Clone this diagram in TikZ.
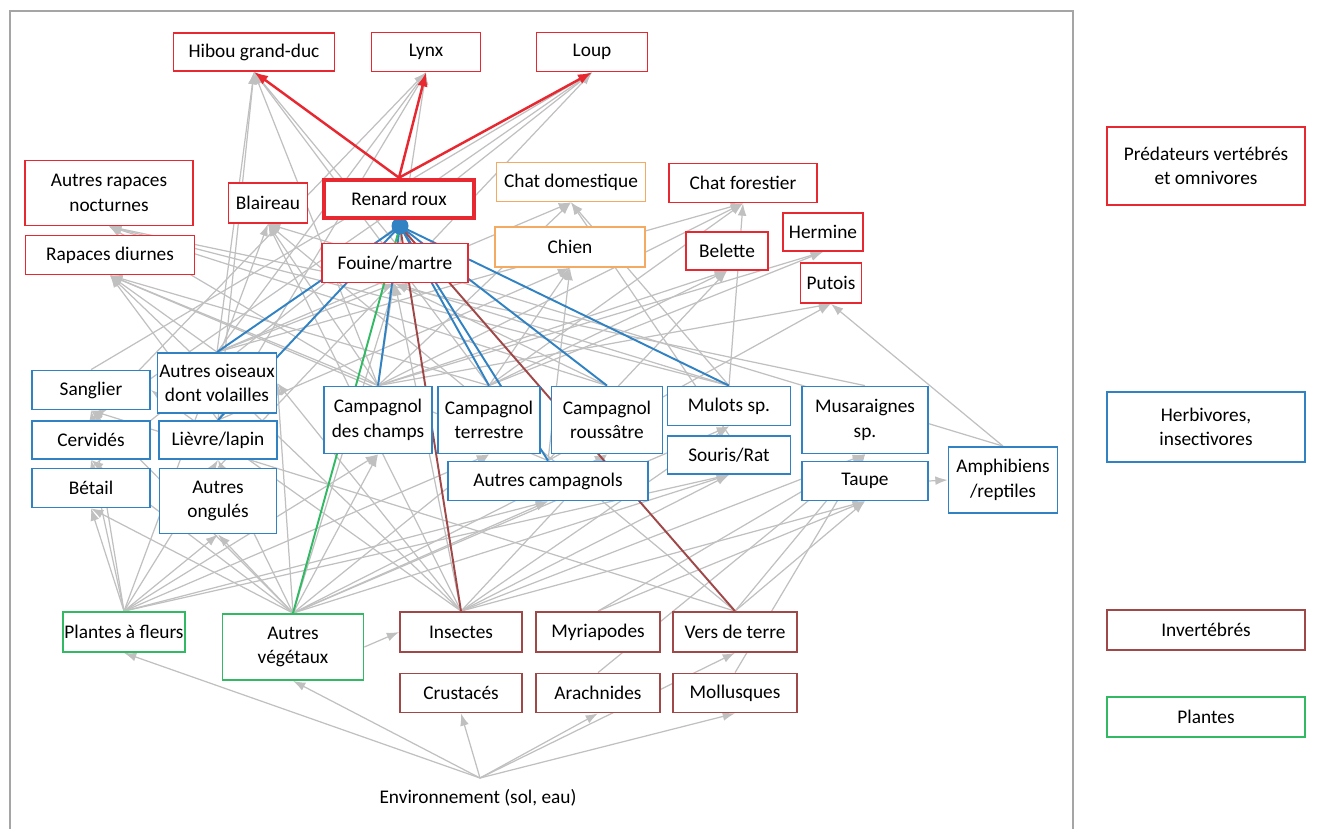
\documentclass[tikz,border=0pt]{standalone}
\usepackage{fontspec}
\setmainfont{Carlito}
\usetikzlibrary{arrows.meta,backgrounds}
\definecolor{predred}{RGB}{232,40,48}
\definecolor{petorange}{RGB}{245,170,100}
\definecolor{herbblue}{RGB}{48,130,195}
\definecolor{invbrown}{RGB}{160,72,72}
\definecolor{plantgreen}{RGB}{50,185,100}
\definecolor{webgray}{RGB}{192,192,192}
\definecolor{framegray}{RGB}{165,165,165}
\tikzset{
  taxon/.style={draw,fill=white,line width=1pt,inner sep=1pt,align=center,font=\fontsize{11}{14}\selectfont},
  wh/.style 2 args={minimum width=#1,minimum height=#2},
  pred/.style={taxon,draw=predred},
  pet/.style={taxon,draw=petorange},
  herb/.style={taxon,draw=herbblue},
  invert/.style={taxon,draw=invbrown},
  plant/.style={taxon,draw=plantgreen},
  feeds/.style={every edge/.style={draw=webgray,line width=0.7pt,{Latex[length=7pt,width=5pt]}-}},
  diet/.style={every edge/.style={draw=#1,line width=1.1pt}},
  hunted/.style={every edge/.style={draw=predred,line width=1.4pt,-{Latex[length=8pt,width=6pt]}}}
}

\begin{document}
\begin{tikzpicture}[x=0.02cm,y=-0.02cm]
  \useasboundingbox (0,0) rectangle (1317,828);
  \draw[framegray,line width=1pt] (10,850) |- (1073,11) -- (1073,850);

  % predators
  \node[pred,wh={3.22cm}{0.76cm}] (hibou) at (254,52) {Hibou grand-duc};
  \node[pred,wh={2.18cm}{0.78cm}] (lynx) at (426,52) {Lynx};
  \node[pred,wh={2.22cm}{0.78cm}] (loup) at (592,52) {Loup};
  \node[pred,wh={3.36cm}{1.3cm}] (rapnoc) at (109,193) {Autres rapaces\\nocturnes};
  \node[pred,wh={1.58cm}{0.8cm}] (blaireau) at (268,203) {Blaireau};
  \node[pred,line width=2.6pt,wh={3.0cm}{0.76cm}] (renard) at (399,199) {Renard roux};
  \node[pet,wh={2.98cm}{0.78cm}] (chatdom) at (571,182) {Chat domestique};
  \node[pred,wh={2.96cm}{0.78cm}] (chatfor) at (743,183) {Chat forestier};
  \node[pred,wh={3.38cm}{0.78cm}] (rapdiu) at (110,255) {Rapaces diurnes};
  \node[pred,wh={2.92cm}{0.78cm}] (fouine) at (395,263) {Fouine/martre};
  \node[pet,wh={3.0cm}{0.8cm}] (chien) at (570,247) {Chien};
  \node[pred,wh={1.64cm}{0.76cm}] (belette) at (727,251) {Belette};
  \node[pred,wh={1.6cm}{0.76cm}] (hermine) at (823,232) {Hermine};
  \node[pred,wh={1.22cm}{0.8cm}] (putois) at (831,283) {Putois};

  % herbivores, insectivores
  \node[herb,wh={2.36cm}{0.78cm}] (sanglier) at (91,390) {Sanglier};
  \node[herb,wh={2.34cm}{1.2cm}] (oiseaux) at (217,383) {Autres oiseaux\\dont volailles};
  \node[herb,wh={2.36cm}{0.76cm}] (cervides) at (91,440) {Cervidés};
  \node[herb,wh={2.36cm}{0.76cm}] (lievre) at (218,440) {Lièvre/lapin};
  \node[herb,wh={2.36cm}{0.78cm}] (betail) at (91,488) {Bétail};
  \node[herb,wh={2.34cm}{1.3cm}] (ongules) at (218,501) {Autres\\ongulés};
  \node[herb,wh={2.16cm}{1.34cm}] (cchamps) at (378,420) {Campagnol\\des champs};
  \node[herb,wh={2.04cm}{1.34cm}] (cterr) at (489,420) {Campagnol\\terrestre};
  \node[herb,wh={2.22cm}{1.34cm}] (crous) at (607,420) {Campagnol\\roussâtre};
  \node[herb,wh={2.46cm}{0.78cm}] (mulots) at (729,406) {Mulots sp.};
  \node[herb,wh={2.46cm}{0.76cm}] (souris) at (729,455) {Souris/Rat};
  \node[herb,wh={4.0cm}{0.78cm}] (acamp) at (548,481) {Autres campagnols};
  \node[herb,wh={2.52cm}{1.34cm}] (musar) at (865,420) {Musaraignes\\sp.};
  \node[herb,wh={2.52cm}{0.78cm}] (taupe) at (865,481) {Taupe};
  \node[herb,wh={2.18cm}{1.32cm}] (amphi) at (1003,480) {Amphibiens\\/reptiles};

  % plantes, invertebres
  \node[plant,wh={2.32cm}{0.8cm}] (pfleurs) at (124,632) {Plantes à fleurs};
  \node[plant,wh={2.82cm}{1.32cm}] (aveg) at (293,647) {Autres\\végétaux};
  \node[invert,wh={2.44cm}{0.8cm}] (insectes) at (461,632) {Insectes};
  \node[invert,wh={2.48cm}{0.8cm}] (myria) at (598,632) {Myriapodes};
  \node[invert,wh={2.48cm}{0.8cm}] (vers) at (735,632) {Vers de terre};
  \node[invert,wh={2.44cm}{0.78cm}] (crust) at (461,693) {Crustacés};
  \node[invert,wh={2.48cm}{0.78cm}] (arach) at (598,693) {Arachnides};
  \node[invert,wh={2.48cm}{0.78cm}] (mollu) at (735,693) {Mollusques};
  \node[font=\fontsize{11}{14}\selectfont] (env) at (478,798) {Environnement (sol, eau)};
  \coordinate (envtop) at (480,778);
  \coordinate (hub) at (400,226);

  % legende
  \node[pred,wh={3.96cm}{1.56cm}] (lpred) at (1206,166) {Prédateurs vertébrés\\et omnivores};
  \node[herb,wh={3.96cm}{1.4cm}] (lherb) at (1206,427) {Herbivores,\\insectivores};
  \node[invert,wh={3.96cm}{0.8cm}] (linv) at (1206,630) {Invertébrés};
  \node[plant,wh={3.96cm}{0.8cm}] (lplant) at (1206,717) {Plantes};

  \begin{scope}[on background layer]
    % who eats whom (gray web)
    \path[feeds] (hibou.south) edge (oiseaux.north) edge (lievre.north) edge (cchamps.north) edge (cterr.north) edge (fouine.north);
    \path[feeds] (lynx.south) edge (cervides.north) edge (lievre.north) edge (oiseaux.north) edge (cchamps.north);
    \path[feeds] (loup.south) edge (sanglier.north) edge (cervides.north) edge (betail.north) edge (ongules.north);
    \path[feeds] (rapnoc.south) edge (cchamps.north) edge (mulots.north) edge (musar.north) edge (crous.north);
    \path[feeds] (rapdiu.south) edge (cchamps.north) edge (cterr.north) edge (acamp.north) edge (oiseaux.north) edge (lievre.north) edge (insectes.north);
    \path[feeds] (blaireau.south) edge (vers.north) edge (insectes.north) edge (pfleurs.north) edge (cchamps.north) edge (amphi.north);
    \path[feeds] (fouine.south) edge (oiseaux.north) edge (crous.north) edge (mulots.north) edge (insectes.north) edge (aveg.north);
    \path[feeds] (chatdom.south) edge (mulots.north) edge (cchamps.north) edge (oiseaux.north) edge (souris.north);
    \path[feeds] (chien.south) edge (lievre.north) edge (cterr.north) edge (acamp.north);
    \path[feeds] (chatfor.south) edge (cchamps.north) edge (cterr.north) edge (mulots.north) edge (oiseaux.north);
    \path[feeds] (belette.south) edge (cterr.north) edge (acamp.north) edge (cchamps.north);
    \path[feeds] (hermine.south) edge (cterr.north) edge (cchamps.north);
    \path[feeds] (putois.south) edge (amphi.north) edge (cchamps.north) edge (acamp.north);
    \path[feeds] (sanglier.south) edge (pfleurs.north) edge (aveg.north) edge (vers.north);
    \path[feeds] (sanglier.east) edge (insectes.north);
    \path[feeds] (cervides.south) edge (pfleurs.north) edge (aveg.north);
    \path[feeds] (betail.south) edge (pfleurs.north) edge (aveg.north);
    \path[feeds] (oiseaux.east) edge (insectes.north) edge (aveg.north);
    \path[feeds] (lievre.south) edge (pfleurs.north) edge (aveg.north);
    \path[feeds] (ongules.south) edge (pfleurs.north) edge (aveg.north);
    \path[feeds] (cchamps.south) edge (pfleurs.north) edge (aveg.north);
    \path[feeds] (cterr.south) edge (pfleurs.north) edge (aveg.north);
    \path[feeds] (crous.south) edge (aveg.north) edge (insectes.north);
    \path[feeds] (acamp.south) edge (pfleurs.north) edge (aveg.north);
    \path[feeds] (mulots.south) edge (aveg.north) edge (insectes.north);
    \path[feeds] (souris.south) edge (pfleurs.north) edge (aveg.north) edge (insectes.north);
    \path[feeds] (musar.south) edge (insectes.north) edge (vers.north) edge (myria.north) edge (arach.north) edge (mollu.north);
    \path[feeds] (taupe.south) edge (vers.north) edge (insectes.north) edge (myria.north);
    \path[feeds] (amphi.west) edge (taupe.east);
    \path[feeds] (insectes.west) edge (aveg.east);
    \path[feeds] (pfleurs.south) edge (envtop);
    \path[feeds] (aveg.south) edge (envtop);
    \path[feeds] (vers.south) edge (envtop);
    \path[feeds] (mollu.south) edge (envtop);
    \path[feeds] (crust.south) edge (envtop);
    \path[feeds] (arach.south) edge (envtop);

    % the fox and its prey
    \path[diet=herbblue] (hub) edge (oiseaux.north) edge (lievre.north) edge (cchamps.north)
      edge (cterr.north) edge (acamp.north) edge (crous.north) edge (mulots.north);
    \path[diet=plantgreen] (hub) edge (aveg.north);
    \path[diet=invbrown] (hub) edge (insectes.north) edge (vers.north);
    \fill[herbblue] (hub) circle (0.17cm);
    \path[hunted] (renard.north) edge (hibou.south) edge (lynx.south) edge (loup.south);
  \end{scope}
\end{tikzpicture}
\end{document}
